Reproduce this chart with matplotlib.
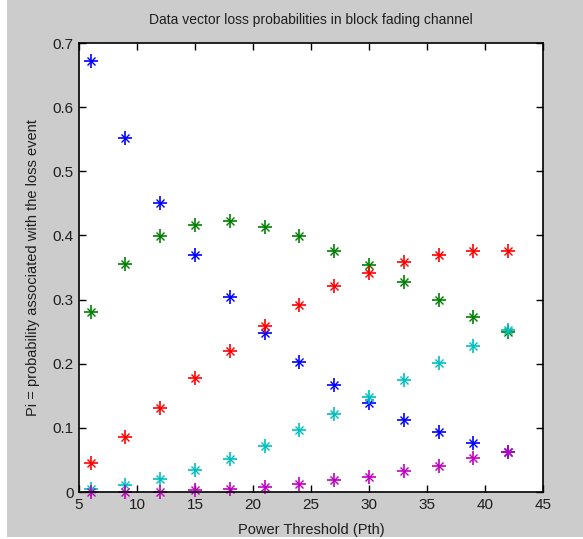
import matplotlib
matplotlib.use("Agg")
import matplotlib.pyplot as plt
from matplotlib.patches import Rectangle

pth = [6, 9, 12, 15, 18, 21, 24, 27, 30, 33, 36, 39, 42]
p_blue = [0.672, 0.552, 0.451, 0.370, 0.304, 0.248, 0.203, 0.167, 0.138, 0.113, 0.093, 0.076, 0.062]
p_green = [0.281, 0.356, 0.399, 0.417, 0.422, 0.413, 0.399, 0.376, 0.354, 0.327, 0.300, 0.273, 0.249]
p_red = [0.045, 0.086, 0.131, 0.178, 0.220, 0.259, 0.292, 0.321, 0.342, 0.358, 0.369, 0.375, 0.376]
p_cyan = [0.004, 0.011, 0.020, 0.035, 0.051, 0.072, 0.097, 0.121, 0.148, 0.175, 0.201, 0.228, 0.253]
p_magenta = [0.000, 0.000, 0.000, 0.003, 0.005, 0.008, 0.013, 0.018, 0.024, 0.033, 0.041, 0.053, 0.063]

series = [
    (p_blue, (0, 0, 1)),
    (p_green, (0, 0.5, 0)),
    (p_red, (1, 0, 0)),
    (p_cyan, (0, 0.75, 0.75)),
    (p_magenta, (0.75, 0, 0.75)),
]

plt.rcParams['font.family'] = ['Liberation Sans', 'DejaVu Sans']
txt = '#1e1e1e'

W, H = 583, 539
fig = plt.figure(figsize=(W / 100, H / 100), dpi=100, facecolor=(0.8, 0.8, 0.8))
fig.patches.append(Rectangle((0, 0), 7 / W, 1, transform=fig.transFigure,
                             facecolor='white', edgecolor='none', zorder=-1))
fig.patches.append(Rectangle((0, 0), 1, 2 / H, transform=fig.transFigure,
                             facecolor='white', edgecolor='none', zorder=-1))

ax = fig.add_axes([79 / W, 1 - 492 / H, (543 - 79) / W, (492 - 43) / H])
ax.set_facecolor('white')

for vals, col in series:
    ax.plot(pth, vals, linestyle='none', marker='+', markersize=10,
            markeredgewidth=1.2, color=col, clip_on=False)
    ax.plot(pth, vals, linestyle='none', marker='x', markersize=6,
            markeredgewidth=1.0, color=col, clip_on=False)

ax.set_xlim(5, 45)
ax.set_ylim(0, 0.7)
ax.set_xticks(range(5, 46, 5))
ax.set_yticks([0, 0.1, 0.2, 0.3, 0.4, 0.5, 0.6, 0.7])
ax.set_yticklabels(['0', '0.1', '0.2', '0.3', '0.4', '0.5', '0.6', '0.7'])
ax.tick_params(direction='in', length=5, width=1, top=True, right=True,
               labelsize=11, color='black', labelcolor=txt, pad=4)
for s in ax.spines.values():
    s.set_linewidth(1.2)
    s.set_color('black')

ax.set_title('Data vector loss probabilities in block fading channel',
             fontsize=10, pad=14, color=txt)
ax.set_xlabel('Power Threshold (Pth)', fontsize=10.5, labelpad=8, color=txt)
ax.set_ylabel('Pi = probability associated with the loss event', fontsize=10.5,
              labelpad=9, color=txt)

fig.savefig('out.png', dpi=100, facecolor=fig.get_facecolor())
